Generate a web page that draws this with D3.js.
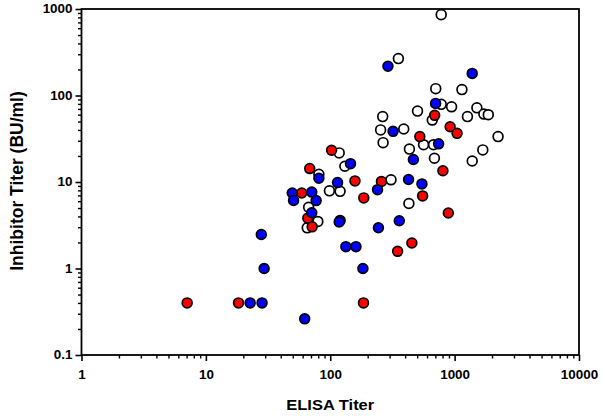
<!DOCTYPE html>
<html>
<head>
<meta charset="utf-8">
<script src="https://cdn.jsdelivr.net/npm/d3@7"></script>
<style>
  html, body { margin: 0; padding: 0; background: #fff; }
  svg { display: block; }
  text { font-family: "Liberation Sans", Arial, sans-serif; font-weight: bold; fill: #000; }
</style>
</head>
<body>
<svg id="chart" width="602" height="416"></svg>
<script>
// ---- data (ELISA titer, inhibitor titer in BU/ml) ----
const openX = [780, 353, 705, 1145, 780, 945, 1510, 503, 1268, 1718, 1865, 264, 661, 254, 390, 2235, 266, 563, 677, 433, 1685, 118, 688, 1385, 131, 81, 308, 98.5, 120, 429, 67, 79.5, 65.3];
const openY = [860, 267, 120, 117, 79, 74, 72, 66, 57, 61, 60, 57, 52, 40, 41, 33.5, 28.5, 27, 27, 24, 23.5, 21.7, 18.8, 17.5, 15.2, 12.3, 10.6, 7.9, 7.8, 5.65, 5.1, 3.5, 2.95];

const redX = [691, 920, 1046, 525, 102.5, 68.4, 805, 258, 158, 59, 186, 553, 890, 66, 71.5, 453, 348, 7.07, 18.3, 185];
const redY = [59, 43.5, 36.5, 33.5, 23.3, 14.3, 13.5, 10.15, 10.3, 7.45, 6.55, 6.9, 4.38, 3.82, 3.03, 1.97, 1.58, 0.4, 0.4, 0.4];

const blueX = [291, 1385, 703, 320, 743, 466, 145.5, 81, 426, 114.5, 546, 240, 49.5, 71, 50.7, 77, 71, 120, 118, 359, 244, 27.9, 133.5, 161, 29.4, 183, 22.7, 28.3, 62.3];
const blueY = [218, 180, 81, 38.5, 27.6, 18.2, 16.3, 11.05, 10.7, 9.85, 9.5, 8.15, 7.45, 7.65, 6.13, 6.1, 4.41, 3.6, 3.45, 3.57, 2.96, 2.47, 1.79, 1.79, 1.0, 1.0, 0.4, 0.4, 0.262];

const xTickValues = [1, 10, 100, 1000, 10000];
const xTickLabels = ["1", "10", "100", "1000", "10000"];
const yTickValues = [0.1, 1, 10, 100, 1000];
const yTickLabels = ["0.1", "1", "10", "100", "1000"];

const xTitle = "ELISA Titer";
const yTitle = "Inhibitor Titer (BU/ml)";

// ---- layout ----
const plotL = 81.5, plotR = 579, plotT = 9, plotB = 355;
const svg = d3.select("#chart");

const x = d3.scaleLog().domain([1, 10000]).range([plotL, plotR]);
const y = d3.scaleLog().domain([0.1, 1000]).range([plotB, plotT]);

function minorTicks(lo, hi) {
  const out = [];
  for (let e = Math.round(Math.log10(lo)); e < Math.round(Math.log10(hi)); e++) {
    for (let k = 2; k <= 9; k++) out.push(k * Math.pow(10, e));
  }
  return out;
}

// minor ticks
svg.append("g")
  .attr("transform", `translate(0,${plotB})`)
  .call(d3.axisBottom(x).tickValues(minorTicks(1, 10000)).tickSize(3.5).tickFormat(""))
  .call(g => g.select(".domain").remove())
  .selectAll("line").attr("stroke", "#000").attr("stroke-width", 1.4);

svg.append("g")
  .attr("transform", `translate(${plotL},0)`)
  .call(d3.axisLeft(y).tickValues(minorTicks(0.1, 1000)).tickSize(3.5).tickFormat(""))
  .call(g => g.select(".domain").remove())
  .selectAll("line").attr("stroke", "#000").attr("stroke-width", 1.4);

// major ticks + labels
const xAxis = svg.append("g")
  .attr("transform", `translate(0,${plotB})`)
  .call(d3.axisBottom(x).tickValues(xTickValues).tickSize(6).tickPadding(9)
    .tickFormat((d, i) => xTickLabels[i]))
  .call(g => g.select(".domain").remove());
xAxis.selectAll("line").attr("stroke", "#000").attr("stroke-width", 1.6);
xAxis.selectAll("text")
  .attr("font-size", 12).attr("font-family", "Liberation Sans, Arial, sans-serif")
  .attr("font-weight", "bold")
  .attr("transform", "scale(1.12,1)");

const yAxis = svg.append("g")
  .attr("transform", `translate(${plotL},0)`)
  .call(d3.axisLeft(y).tickValues(yTickValues).tickSize(6).tickPadding(2)
    .tickFormat((d, i) => yTickLabels[i]))
  .call(g => g.select(".domain").remove());
yAxis.selectAll("line").attr("stroke", "#000").attr("stroke-width", 1.6);
yAxis.selectAll("text")
  .attr("font-size", 12).attr("font-family", "Liberation Sans, Arial, sans-serif")
  .attr("font-weight", "bold")
  .attr("transform", "scale(1.12,1)");

// frame
svg.append("rect")
  .attr("x", plotL).attr("y", plotT)
  .attr("width", plotR - plotL).attr("height", plotB - plotT)
  .attr("fill", "none").attr("stroke", "#000").attr("stroke-width", 1.8);

// points
const groups = [
  { xs: openX, ys: openY, fill: "#ffffff" },
  { xs: redX, ys: redY, fill: "#ff0000" },
  { xs: blueX, ys: blueY, fill: "#0000ff" }
];
groups.forEach(gd => {
  svg.append("g").selectAll("circle")
    .data(gd.xs.map((v, i) => [v, gd.ys[i]]))
    .join("circle")
    .attr("cx", d => x(d[0]))
    .attr("cy", d => y(d[1]))
    .attr("r", 4.9)
    .attr("fill", gd.fill)
    .attr("stroke", "#000")
    .attr("stroke-width", 1.7);
});

// titles
svg.append("text")
  .attr("transform", `translate(${(plotL + plotR) / 2},410) scale(1.1,1)`)
  .attr("text-anchor", "middle")
  .attr("font-size", 15)
  .text(xTitle);

svg.append("text")
  .attr("transform", `translate(22.5,181) rotate(-90)`)
  .attr("text-anchor", "middle")
  .attr("font-size", 17.5)
  .text(yTitle);
</script>
</body>
</html>
